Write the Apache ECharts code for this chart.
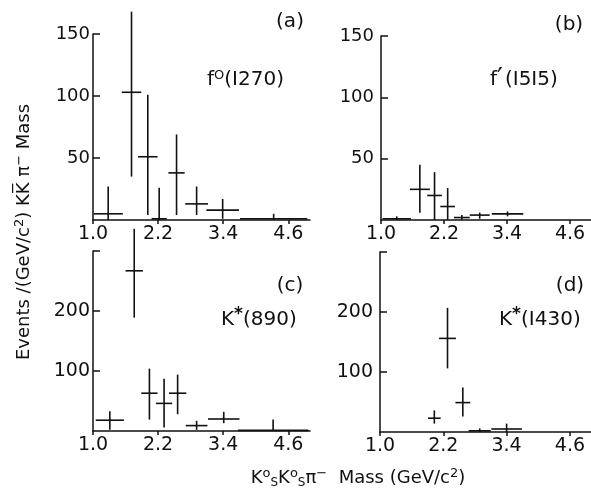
<!DOCTYPE html>
<html>
<head>
    <meta http-equiv="Content-Type" content="text/html; charset=utf-8" />
    <title></title>
    <script type="text/javascript" src="https://cdn.jsdelivr.net/npm/echarts@6/dist/echarts.min.js"></script>
    <style>
        html, body { margin: 0; padding: 0; background: #fff; }
        #chart { width: 591px; height: 491px; }
    </style>
</head>
<body>
    <div id="chart"></div>

    <script>
        // each row: [mass centre, half bin width, events, error low, error high]
        var binsA = [
            [1.28, 0.27, 5, 0, 27],
            [1.71, 0.18, 103, 35, 168],
            [2.01, 0.18, 51, 4, 101],
            [2.22, 0.14, 1, 0, 26],
            [2.54, 0.15, 38, 4, 69],
            [2.91, 0.21, 13, 4, 27],
            [3.39, 0.30, 8, 1, 17],
            [4.33, 0.62, 1, 0, 5]
        ];
        var binsB = [
            [1.30, 0.27, 1, 0, 3],
            [1.74, 0.19, 25, 6, 45],
            [2.02, 0.14, 20, 0, 39],
            [2.27, 0.14, 11, 0, 26],
            [2.54, 0.15, 2, 0, 4],
            [2.88, 0.19, 4, 1, 6],
            [3.41, 0.30, 5, 3, 7]
        ];
        var binsC = [
            [1.31, 0.26, 18, 2, 33],
            [1.76, 0.16, 267, 189, 337],
            [2.04, 0.15, 63, 19, 104],
            [2.31, 0.15, 46, 6, 87],
            [2.56, 0.16, 63, 28, 94],
            [2.91, 0.20, 9, 2, 17],
            [3.41, 0.29, 20, 13, 32],
            [4.32, 0.65, 1, 0, 19]
        ];
        var binsD = [
            [2.03, 0.12, 23, 14, 36],
            [2.28, 0.16, 156, 106, 207],
            [2.57, 0.14, 49, 26, 74],
            [2.89, 0.21, 2, 0, 6],
            [3.40, 0.29, 5, 0, 14]
        ];

        var massTicks = [1.0, 2.2, 3.4, 4.6];
        var eventTicksTop = [50, 100, 150];
        var eventTicksBottom = [100, 200, 300];
        var eventLabelsBottom = [100, 200];

        var ink = '#111';
        var fontName = 'DejaVu Sans';

        function crossItem(params, api) {
            var m = api.value(0), hw = api.value(1), v = api.value(2);
            var p1 = api.coord([m - hw, v]), p2 = api.coord([m + hw, v]);
            var top = api.coord([m, api.value(4)]), bot = api.coord([m, api.value(3)]);
            var st = { stroke: ink, lineWidth: 1.6 };
            return {
                type: 'group',
                children: [
                    { type: 'line', shape: { x1: p1[0], y1: p1[1], x2: p2[0], y2: p2[1] }, style: st },
                    { type: 'line', shape: { x1: top[0], y1: top[1], x2: bot[0], y2: bot[1] }, style: st }
                ]
            };
        }

        function xAxisFor(idx, size) {
            return {
                type: 'value', gridIndex: idx, min: 1.0, max: 5.0,
                splitLine: { show: false },
                axisLine: { lineStyle: { color: ink, width: 1.5 } },
                axisTick: { customValues: massTicks, length: 4, lineStyle: { color: ink, width: 1.5 } },
                axisLabel: {
                    customValues: massTicks, margin: 5, color: ink,
                    fontFamily: fontName, fontSize: size,
                    formatter: function (v) { return v.toFixed(1); }
                }
            };
        }

        function yAxisFor(idx, max, ticks, labels, gap, size) {
            return {
                type: 'value', gridIndex: idx, min: 0, max: max,
                splitLine: { show: false },
                axisLine: { lineStyle: { color: ink, width: 1.5 } },
                axisTick: { customValues: ticks, inside: true, length: 7, lineStyle: { color: ink, width: 1.5 } },
                axisLabel: { customValues: labels, margin: gap, color: ink, fontFamily: fontName, fontSize: size }
            };
        }

        var richStyles = {
            sup: { fontSize: 13, verticalAlign: 'top', padding: [0, 0, 8, 0], fontFamily: fontName, fill: ink },
            prime: { fontSize: 26, verticalAlign: 'top', padding: [0, 2, 0, 0], fontFamily: fontName, fill: ink },
            sub: { fontSize: 12, verticalAlign: 'bottom', padding: [8, 0, 0, 0], fontFamily: fontName, fill: ink },
            star: { fontSize: 17, fontWeight: 'bold', verticalAlign: 'top', padding: [0, 0, 10, 0], fontFamily: fontName, fill: ink }
        };

        function label(x, y, text, size, align) {
            return {
                type: 'text', x: x, y: y,
                style: {
                    text: text, fill: ink, fontFamily: fontName, fontSize: size,
                    align: align || 'center', verticalAlign: 'middle', rich: richStyles
                }
            };
        }

        var myChart = echarts.init(document.getElementById('chart'));

        var option = {
            backgroundColor: '#fff',
            animation: false,
            grid: [
                { left: 93, top: 34, width: 217, height: 186 },
                { left: 381, top: 36, width: 215, height: 184 },
                { left: 93, top: 251, width: 217, height: 180 },
                { left: 380, top: 252, width: 214, height: 180 }
            ],
            xAxis: [xAxisFor(0, 19), xAxisFor(1, 19), xAxisFor(2, 19), xAxisFor(3, 19)],
            yAxis: [
                yAxisFor(0, 150, eventTicksTop, eventTicksTop, 3, 18),
                yAxisFor(1, 150, eventTicksTop, eventTicksTop, 7, 18),
                yAxisFor(2, 300, eventTicksBottom, eventLabelsBottom, 3, 19),
                yAxisFor(3, 300, eventTicksBottom, eventLabelsBottom, 7, 19)
            ],
            series: [
                { type: 'custom', xAxisIndex: 0, yAxisIndex: 0, renderItem: crossItem, data: binsA, clip: false },
                { type: 'custom', xAxisIndex: 1, yAxisIndex: 1, renderItem: crossItem, data: binsB, clip: false },
                { type: 'custom', xAxisIndex: 2, yAxisIndex: 2, renderItem: crossItem, data: binsC, clip: false },
                { type: 'custom', xAxisIndex: 3, yAxisIndex: 3, renderItem: crossItem, data: binsD, clip: false }
            ],
            graphic: [
                label(290, 22, '(a)', 20),
                label(207, 80, 'f{sup|O}(I270)', 20, 'left'),
                label(569, 25, '(b)', 20),
                label(490, 80, 'f{prime|\u2032}(I5I5)', 20, 'left'),
                label(290, 286, '(c)', 20),
                label(221, 320, 'K{star|*}(890)', 20, 'left'),
                label(570, 286, '(d)', 20),
                label(499, 320, 'K{star|*}(I430)', 20, 'left'),
                {
                    type: 'text', x: 24, y: 232, rotation: Math.PI / 2,
                    style: {
                        text: 'Events /(GeV/c{sup|2}) KK\u0305 \u03c0{sup|\u2212} Mass',
                        fill: ink, fontFamily: fontName, fontSize: 18,
                        align: 'center', verticalAlign: 'middle', rich: richStyles
                    }
                },
                {
                    type: 'text', x: 358, y: 478,
                    style: {
                        text: 'K{sup|o}{sub|S}K{sup|o}{sub|S}\u03c0{sup|\u2212}  Mass (GeV/c{sup|2})',
                        fill: ink, fontFamily: fontName, fontSize: 18,
                        align: 'center', verticalAlign: 'middle', rich: richStyles
                    }
                }
            ]
        };
        myChart.setOption(option);
    </script>
</body>
</html>
